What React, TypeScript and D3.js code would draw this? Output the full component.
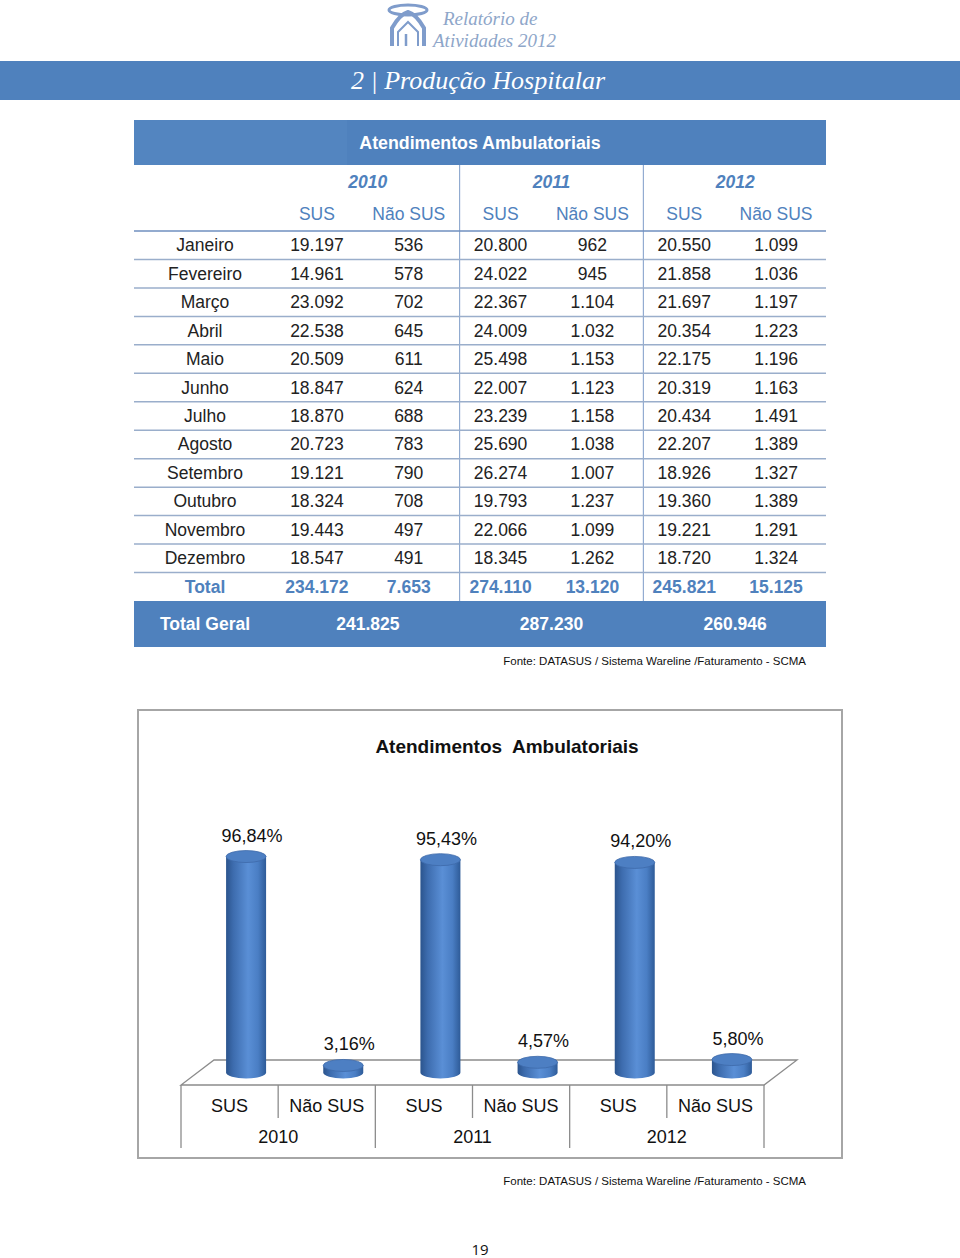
import { useEffect, useRef } from "react";
import * as d3 from "d3";

// Dados da tabela (Atendimentos Ambulatoriais)
const meses = [
  "Janeiro", "Fevereiro", "Março", "Abril", "Maio", "Junho",
  "Julho", "Agosto", "Setembro", "Outubro", "Novembro", "Dezembro",
];
const anos = ["2010", "2011", "2012"];
const tipos = ["SUS", "Não SUS"];

const sus2010 = ["19.197", "14.961", "23.092", "22.538", "20.509", "18.847", "18.870", "20.723", "19.121", "18.324", "19.443", "18.547"];
const naoSus2010 = ["536", "578", "702", "645", "611", "624", "688", "783", "790", "708", "497", "491"];
const sus2011 = ["20.800", "24.022", "22.367", "24.009", "25.498", "22.007", "23.239", "25.690", "26.274", "19.793", "22.066", "18.345"];
const naoSus2011 = ["962", "945", "1.104", "1.032", "1.153", "1.123", "1.158", "1.038", "1.007", "1.237", "1.099", "1.262"];
const sus2012 = ["20.550", "21.858", "21.697", "20.354", "22.175", "20.319", "20.434", "22.207", "18.926", "19.360", "19.221", "18.720"];
const naoSus2012 = ["1.099", "1.036", "1.197", "1.223", "1.196", "1.163", "1.491", "1.389", "1.327", "1.389", "1.291", "1.324"];

const totais = ["234.172", "7.653", "274.110", "13.120", "245.821", "15.125"];
const totalGeral = ["241.825", "287.230", "260.946"];

// Dados do gráfico (% SUS / Não SUS por ano)
const pctSus = [96.84, 95.43, 94.2];
const pctNaoSus = [3.16, 4.57, 5.8];

const fonte = "Fonte: DATASUS / Sistema Wareline /Faturamento - SCMA";

const AZUL = "#4f81bd";
const SANS = "'Liberation Sans', Arial, sans-serif";
const SERIF = "'Liberation Serif', 'DejaVu Serif', serif";

const fmtPct = (v: number) => v.toFixed(2).replace(".", ",") + "%";

export default function App() {
  const ref = useRef<SVGSVGElement | null>(null);

  useEffect(() => {
    if (!ref.current) return;
    const svg = d3.select(ref.current);
    svg.selectAll("*").remove();

    // ---------- Cabeçalho ----------
    const logo = svg.append("g").attr("stroke", "#7f9ccb").attr("fill", "none");
    logo.append("ellipse").attr("cx", 408).attr("cy", 10).attr("rx", 19).attr("ry", 5).attr("stroke-width", 3);
    logo.append("path").attr("d", "M392,46 L392,28 Q400,14 408,12 Q416,14 424,28 L424,46").attr("stroke-width", 4);
    logo.append("path").attr("d", "M398,46 L398,32 L408,22 L418,32 L418,46").attr("stroke-width", 2);
    logo.append("line").attr("x1", 406).attr("x2", 406).attr("y1", 34).attr("y2", 46).attr("stroke-width", 2.5);

    svg.append("text").attr("x", 443).attr("y", 25)
      .style("font-family", SERIF).style("font-style", "italic").style("font-size", "19px")
      .style("fill", "#8ea6c9").text("Relatório de");
    svg.append("text").attr("x", 433).attr("y", 47)
      .style("font-family", SERIF).style("font-style", "italic").style("font-size", "19px")
      .style("fill", "#8ea6c9").text("Atividades 2012");

    svg.append("rect").attr("x", 0).attr("y", 61).attr("width", 960).attr("height", 39).attr("fill", AZUL);
    svg.append("text").attr("x", 605).attr("y", 89).attr("text-anchor", "end")
      .style("font-family", SERIF).style("font-style", "italic").style("font-size", "26px")
      .style("fill", "#fff").text("2 | Produção Hospitalar");

    // ---------- Tabela ----------
    const tX0 = 134, tX1 = 826;
    const linhas = [...meses, "Total"];
    const colunas = [sus2010, naoSus2010, sus2011, naoSus2011, sus2012, naoSus2012];

    const xCol = d3.scaleBand<number>().domain(d3.range(6)).range([271, 822]);
    const xAno = d3.scaleBand<string>().domain(anos).range([276, 827]);
    const yRow = d3.scaleBand<string>().domain(linhas).range([231, 601]);

    svg.append("rect").attr("x", tX0).attr("y", 120).attr("width", tX1 - tX0).attr("height", 45).attr("fill", AZUL);
    svg.append("rect").attr("x", tX0).attr("y", 120).attr("width", 213).attr("height", 45).attr("fill", "#5385c0");
    svg.append("text").attr("x", 480).attr("y", 149).attr("text-anchor", "middle")
      .style("font-family", SANS).style("font-weight", "700").style("font-size", "17.8px")
      .style("fill", "#fff").text("Atendimentos Ambulatoriais");

    // Separadores verticais entre anos
    svg.selectAll(".sep").data(anos.slice(1)).enter().append("line")
      .attr("x1", (d) => xAno(d)!).attr("x2", (d) => xAno(d)!)
      .attr("y1", 165).attr("y2", 601)
      .attr("stroke", "#7d9cc8").attr("stroke-width", 1);

    svg.selectAll(".ano").data(anos).enter().append("text")
      .attr("x", (d) => xAno(d)! + xAno.bandwidth() / 2).attr("y", 188)
      .attr("text-anchor", "middle")
      .style("font-family", SANS).style("font-weight", "700").style("font-style", "italic")
      .style("font-size", "17.5px").style("fill", AZUL).text((d) => d);

    svg.selectAll(".tipo").data(d3.range(6)).enter().append("text")
      .attr("x", (i) => xCol(i)! + xCol.bandwidth() / 2).attr("y", 220)
      .attr("text-anchor", "middle")
      .style("font-family", SANS).style("font-size", "17.5px").style("fill", AZUL)
      .text((i) => tipos[i % 2]);

    // Linhas horizontais
    svg.selectAll(".hl").data(linhas).enter().append("line")
      .attr("x1", tX0).attr("x2", tX1)
      .attr("y1", (d) => yRow(d)!).attr("y2", (d) => yRow(d)!)
      .attr("stroke", (d, i) => (i === 0 ? "#6f8fbf" : "#9aaecb")).attr("stroke-width", 1.5);

    const rowText = (d: string) => yRow(d)! + yRow.bandwidth() / 2 + 6;

    svg.selectAll(".mes").data(linhas).enter().append("text")
      .attr("x", 205).attr("y", rowText).attr("text-anchor", "middle")
      .style("font-family", SANS).style("font-size", "17.5px")
      .style("font-weight", (d) => (d === "Total" ? "700" : "400"))
      .style("fill", (d) => (d === "Total" ? AZUL : "#222"))
      .text((d) => d);

    colunas.forEach((col, ci) => {
      svg.selectAll(`.v${ci}`).data(meses).enter().append("text")
        .attr("x", xCol(ci)! + xCol.bandwidth() / 2).attr("y", rowText)
        .attr("text-anchor", "middle")
        .style("font-family", SANS).style("font-size", "17.5px").style("fill", "#222")
        .text((d, i) => col[i]);
      svg.append("text")
        .attr("x", xCol(ci)! + xCol.bandwidth() / 2).attr("y", rowText("Total"))
        .attr("text-anchor", "middle")
        .style("font-family", SANS).style("font-weight", "700").style("font-size", "17.5px")
        .style("fill", AZUL).text(totais[ci]);
    });

    svg.append("rect").attr("x", tX0).attr("y", 601).attr("width", tX1 - tX0).attr("height", 46).attr("fill", AZUL);
    svg.append("text").attr("x", 205).attr("y", 630).attr("text-anchor", "middle")
      .style("font-family", SANS).style("font-weight", "700").style("font-size", "17.5px")
      .style("fill", "#fff").text("Total Geral");
    svg.selectAll(".tg").data(anos).enter().append("text")
      .attr("x", (d) => xAno(d)! + xAno.bandwidth() / 2).attr("y", 630)
      .attr("text-anchor", "middle")
      .style("font-family", SANS).style("font-weight", "700").style("font-size", "17.5px")
      .style("fill", "#fff").text((d, i) => totalGeral[i]);

    svg.append("text").attr("x", 806).attr("y", 665).attr("text-anchor", "end")
      .style("font-family", SANS).style("font-size", "11.5px").style("fill", "#111").text(fonte);

    // ---------- Gráfico de cilindros ----------
    svg.append("rect").attr("x", 138).attr("y", 710).attr("width", 704).attr("height", 448)
      .attr("fill", "#fff").attr("stroke", "#a6a6a6").attr("stroke-width", 2);
    svg.append("text").attr("x", 507).attr("y", 753).attr("text-anchor", "middle")
      .style("font-family", SANS).style("font-weight", "700").style("font-size", "19px")
      .style("fill", "#111").attr("xml:space", "preserve").text("Atendimentos  Ambulatoriais");

    const categorias = anos.flatMap((a) => tipos.map((t) => `${a}|${t}`));
    const valores = anos.flatMap((a, i) => [pctSus[i], pctNaoSus[i]]);

    const fx0 = 181, fx1 = 764, fy = 1085, depthX = 33, depthY = -25;
    const x = d3.scaleBand<string>().domain(categorias).range([fx0, fx1]);
    const baseY = fy + depthY / 2;
    const y = d3.scaleLinear().domain([0, 100]).range([baseY, baseY - 223]);

    // Piso 3D
    svg.append("path")
      .attr("d", `M${fx0},${fy} L${fx1},${fy} L${fx1 + depthX},${fy + depthY} L${fx0 + depthX},${fy + depthY} Z`)
      .attr("fill", "#fff").attr("stroke", "#8c8c8c").attr("stroke-width", 1.3);

    // Eixo de categorias (dois níveis)
    const eixo = svg.append("g").attr("stroke", "#8c8c8c").attr("stroke-width", 1.3);
    categorias.forEach((c, i) => {
      const xl = x(c)!;
      eixo.append("line").attr("x1", xl).attr("x2", xl).attr("y1", fy)
        .attr("y2", i % 2 === 0 ? 1148 : 1118);
    });
    eixo.append("line").attr("x1", fx1).attr("x2", fx1).attr("y1", fy).attr("y2", 1148);

    svg.selectAll(".cat").data(categorias).enter().append("text")
      .attr("x", (d) => x(d)! + x.bandwidth() / 2).attr("y", 1112)
      .attr("text-anchor", "middle")
      .style("font-family", SANS).style("font-size", "18px").style("fill", "#111")
      .text((d) => d.split("|")[1]);
    svg.selectAll(".anoCat").data(anos).enter().append("text")
      .attr("x", (d) => x(`${d}|SUS`)! + x.bandwidth()).attr("y", 1143)
      .attr("text-anchor", "middle")
      .style("font-family", SANS).style("font-size", "18px").style("fill", "#111")
      .text((d) => d);

    const defs = svg.append("defs");
    const grad = defs.append("linearGradient").attr("id", "cil").attr("x1", "0%").attr("x2", "100%");
    [
      [0, "#2b548d"], [0.18, "#3d6cae"], [0.55, "#5a8fd6"], [0.8, "#4a7ec4"], [1, "#2e5b98"],
    ].forEach(([o, c]) => grad.append("stop").attr("offset", o as number).attr("stop-color", c as string));

    const r = 20, ry = 6;
    const cil = svg.selectAll(".cil").data(categorias).enter().append("g");
    cil.append("path")
      .attr("d", (d, i) => {
        const cx = x(d)! + x.bandwidth() / 2 + depthX / 2;
        const top = y(valores[i]);
        return `M${cx - r},${top} L${cx - r},${baseY} A${r},${ry} 0 0 0 ${cx + r},${baseY} L${cx + r},${top} Z`;
      })
      .attr("fill", "url(#cil)");
    cil.append("ellipse")
      .attr("cx", (d) => x(d)! + x.bandwidth() / 2 + depthX / 2)
      .attr("cy", (d, i) => y(valores[i]))
      .attr("rx", r).attr("ry", ry)
      .attr("fill", "#4d7fc3").attr("stroke", "#3d6aa9").attr("stroke-width", 0.8);

    svg.selectAll(".lbl").data(categorias).enter().append("text")
      .attr("x", (d) => x(d)! + x.bandwidth() / 2 + depthX / 2 + 6)
      .attr("y", (d, i) => y(valores[i]) - 15)
      .attr("text-anchor", "middle")
      .style("font-family", SANS).style("font-size", "18px").style("fill", "#111")
      .text((d, i) => fmtPct(valores[i]));

    svg.append("text").attr("x", 806).attr("y", 1185).attr("text-anchor", "end")
      .style("font-family", SANS).style("font-size", "11.5px").style("fill", "#111").text(fonte);

    svg.append("text").attr("x", 480).attr("y", 1255).attr("text-anchor", "middle")
      .style("font-family", "'Open Sans', sans-serif").style("font-size", "15px")
      .style("fill", "#111").text("19");
  }, []);

  return (
    <div style={{ position: "absolute", left: 0, top: 0, width: 960, height: 1258, background: "#fff" }}>
      <svg ref={ref} width={960} height={1258} style={{ display: "block" }} />
    </div>
  );
}
